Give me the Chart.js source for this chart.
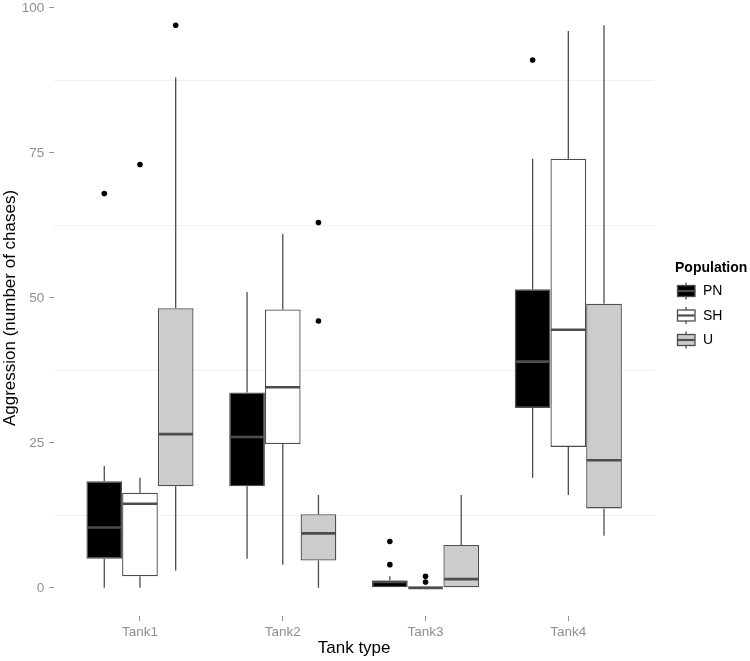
<!DOCTYPE html>
<html lang="en">
<head>
  <meta charset="UTF-8" />
  <title>Aggression by tank type</title>
  <script src="https://cdn.jsdelivr.net/npm/chart.js"></script>
  <style>
    body {
      margin: 0;
      padding: 0;
      background-color: #fff;
    }
    .wrap {
      position: relative;
      width: 750px;
      height: 661px;
    }
  </style>
</head>
<body>
  <div class="wrap">
    <canvas id="boxChart"></canvas>
  </div>

  <script>
    const tanks = ['Tank1', 'Tank2', 'Tank3', 'Tank4'];
    const populations = ['PN', 'SH', 'U'];
    const yTicks = [0, 25, 50, 75, 100];

    // whisker low, Q1, median, Q3, whisker high, outliers
    const pnLow = [0, 5, 0, 19];
    const pnQ1 = [5, 17.5, 0, 31];
    const pnMed = [10.4, 26, 1, 39];
    const pnQ3 = [18.4, 33.7, 1.25, 51.5];
    const pnHigh = [21, 51, 2, 74];
    const pnOut = [[68], [], [4, 8], [91]];

    const shLow = [0, 4, 0, 16];
    const shQ1 = [2, 24.8, 0, 24.3];
    const shMed = [14.5, 34.6, 0, 44.5];
    const shQ3 = [16.4, 48, 0.25, 74];
    const shHigh = [19, 61, 0.25, 96];
    const shOut = [[73], [], [1, 2], []];

    const uLow = [3, 0, 0, 9];
    const uQ1 = [17.5, 4.7, 0, 13.7];
    const uMed = [26.5, 9.4, 1.5, 22];
    const uQ3 = [48.2, 12.7, 7.4, 49];
    const uHigh = [88, 16, 16, 97];
    const uOut = [[97], [46, 63], [], []];

    const fills = ['#000000', '#ffffff', '#cccccc'];
    const lineCol = '#4d4d4d';
    const tickGray = '#8f8f8f';
    const fontFam = '"Liberation Sans", Arial, sans-serif';

    const stats = [
      { low: pnLow, q1: pnQ1, med: pnMed, q3: pnQ3, high: pnHigh, out: pnOut },
      { low: shLow, q1: shQ1, med: shMed, q3: shQ3, high: shHigh, out: shOut },
      { low: uLow, q1: uQ1, med: uMed, q3: uQ3, high: uHigh, out: uOut }
    ];

    const datasets = populations.map((p, d) => ({
      label: p,
      data: tanks.map((t, i) => ({ x: i + 1, y: [stats[d].q1[i], stats[d].q3[i]] })),
      backgroundColor: fills[d],
      borderColor: lineCol,
      borderWidth: 1.3,
      borderSkipped: false,
      categoryPercentage: 0.75,
      barPercentage: 1
    }));

    // whiskers under the boxes, medians and outliers on top
    const boxParts = {
      id: 'boxParts',
      beforeDatasetsDraw(chart) {
        const ctx = chart.ctx;
        const ys = chart.scales.y;
        ctx.save();
        ctx.strokeStyle = lineCol;
        ctx.lineWidth = 1.3;
        stats.forEach((s, d) => {
          chart.getDatasetMeta(d).data.forEach((bar, i) => {
            ctx.beginPath();
            ctx.moveTo(bar.x, ys.getPixelForValue(s.high[i]));
            ctx.lineTo(bar.x, ys.getPixelForValue(s.q3[i]));
            ctx.moveTo(bar.x, ys.getPixelForValue(s.q1[i]));
            ctx.lineTo(bar.x, ys.getPixelForValue(s.low[i]));
            ctx.stroke();
          });
        });
        ctx.restore();
      },
      afterDatasetsDraw(chart) {
        const ctx = chart.ctx;
        const ys = chart.scales.y;
        ctx.save();
        stats.forEach((s, d) => {
          chart.getDatasetMeta(d).data.forEach((bar, i) => {
            const half = bar.width / 2;
            const my = ys.getPixelForValue(s.med[i]);
            ctx.strokeStyle = lineCol;
            ctx.lineWidth = 2.6;
            ctx.beginPath();
            ctx.moveTo(bar.x - half + 0.6, my);
            ctx.lineTo(bar.x + half - 0.6, my);
            ctx.stroke();
            ctx.fillStyle = '#000';
            s.out[i].forEach(v => {
              ctx.beginPath();
              ctx.arc(bar.x, ys.getPixelForValue(v), 2.8, 0, Math.PI * 2);
              ctx.fill();
            });
          });
        });
        ctx.restore();
      }
    };

    const boxLegend = {
      id: 'boxLegend',
      afterDraw(chart) {
        const ctx = chart.ctx;
        ctx.save();
        ctx.fillStyle = '#000';
        ctx.font = 'bold 14px ' + fontFam;
        ctx.textBaseline = 'middle';
        ctx.fillText('Population', 675, 268);
        populations.forEach((p, d) => {
          const cy = 291 + d * 24.5;
          ctx.strokeStyle = lineCol;
          ctx.lineWidth = 1.3;
          ctx.beginPath();
          ctx.moveTo(686, cy - 8.5);
          ctx.lineTo(686, cy + 8.5);
          ctx.stroke();
          ctx.fillStyle = fills[d];
          ctx.fillRect(677.5, cy - 5.5, 17.5, 11);
          ctx.strokeRect(677.5, cy - 5.5, 17.5, 11);
          ctx.lineWidth = 2.2;
          ctx.beginPath();
          ctx.moveTo(678, cy);
          ctx.lineTo(694.5, cy);
          ctx.stroke();
          ctx.fillStyle = '#000';
          ctx.font = '14px ' + fontFam;
          ctx.fillText(p, 703, cy + 0.5);
        });
        ctx.restore();
      }
    };

    new Chart(document.getElementById('boxChart'), {
      type: 'bar',
      data: { datasets: datasets },
      plugins: [boxParts, boxLegend],
      options: {
        responsive: true,
        maintainAspectRatio: false,
        animation: false,
        layout: { padding: { top: 0, right: 96, bottom: 0, left: 0 } },
        plugins: {
          legend: { display: false },
          tooltip: { enabled: false }
        },
        scales: {
          x: {
            type: 'linear',
            min: 0.4,
            max: 4.6,
            offset: false,
            afterBuildTicks: s => { s.ticks = tanks.map((t, i) => ({ value: i + 1 })); },
            afterFit: s => { s.height = 45; s.paddingLeft = 0; s.paddingRight = 0; },
            ticks: {
              autoSkip: false,
              maxRotation: 0,
              padding: 3,
              color: tickGray,
              font: { family: fontFam, size: 13.5 },
              callback: v => tanks[v - 1]
            },
            grid: { offset: false, drawOnChartArea: false, tickLength: 5, tickColor: tickGray, tickWidth: 1 },
            border: { display: false },
            title: {
              display: true,
              text: 'Tank type',
              color: '#000',
              padding: { top: 0, bottom: 2 },
              font: { family: fontFam, size: 17 }
            }
          },
          y: {
            min: -4.85,
            max: 101.35,
            afterBuildTicks: s => {
              const t = [];
              for (let v = 0; v <= 100; v += 12.5) t.push({ value: v });
              s.ticks = t;
            },
            afterFit: s => { s.width = 54.3; s.paddingTop = 0; s.paddingBottom = 0; },
            ticks: {
              padding: 5,
              color: tickGray,
              font: { family: fontFam, size: 13.5 },
              callback: v => yTicks.includes(v) ? String(v) : ''
            },
            grid: {
              tickLength: 5,
              lineWidth: 1,
              color: c => (c.tick && !yTicks.includes(c.tick.value)) ? '#f1f1f1' : 'rgba(0,0,0,0)',
              tickColor: c => (c.tick && yTicks.includes(c.tick.value)) ? tickGray : 'rgba(0,0,0,0)'
            },
            border: { display: false },
            title: {
              display: true,
              text: 'Aggression (number of chases)',
              color: '#000',
              padding: { top: 0, bottom: 0 },
              font: { family: fontFam, size: 17 }
            }
          }
        }
      }
    });
  </script>
</body>
</html>
